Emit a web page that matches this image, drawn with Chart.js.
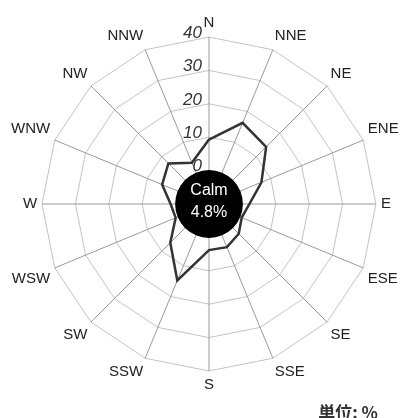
<!DOCTYPE html>
<html>
<head>
<meta charset="utf-8">
<script src="https://cdn.jsdelivr.net/npm/chart.js@4"></script>
<style>
  html, body { margin: 0; padding: 0; background: #fff; }
  #wrap { position: relative; width: 403px; height: 418px; }
  #unit {
    position: absolute; right: 25px; top: 402px;
    font: bold 17px "Noto Sans CJK JP", sans-serif; color: #333;
    line-height: 20px;
  }
</style>
</head>
<body>
<div id="wrap">
  <canvas id="rose" width="403" height="418"></canvas>
  <div id="unit">単位: %</div>
</div>
<script>
  // ── Data ────────────────────────────────────────────────────────────────
  const directions = ['N', 'NNE', 'NE', 'ENE', 'E', 'ESE', 'SE', 'SSE',
                      'S', 'SSW', 'SW', 'WSW', 'W', 'WNW', 'NW', 'NNW'];
  const frequency = [9.3, 16.3, 14.2, 7.0, 2.1, 0.6, 2.6, 4.0,
                     3.8, 14.8, 6.4, 0.8, 1.5, 5.2, 7.2, 3.4];
  const tickValues = [0, 10, 20, 30, 40];
  const calmLabel = 'Calm';
  const calmValue = '4.8%';

  const FONT = '"Liberation Sans", Arial, sans-serif';

  // ── Calm circle + italic tick labels ─────────────────────────────────────
  const calmPlugin = {
    id: 'calm',
    afterDatasetsDraw(chart) {
      const s = chart.scales.r;
      const ctx = chart.ctx;
      const cx = s.xCenter, cy = s.yCenter;
      const rad = s.getDistanceFromCenterForValue(0) + 0.5;

      ctx.save();
      ctx.beginPath();
      ctx.arc(cx, cy, rad, 0, Math.PI * 2);
      ctx.fillStyle = '#000';
      ctx.fill();

      ctx.fillStyle = '#fff';
      ctx.textAlign = 'center';
      ctx.textBaseline = 'middle';
      ctx.font = '16px ' + FONT;
      ctx.fillText(calmLabel, cx, cy - 13);
      ctx.fillText(calmValue, cx, cy + 9);

      ctx.fillStyle = '#333';
      ctx.textAlign = 'right';
      ctx.font = 'italic 17px ' + FONT;
      tickValues.forEach(v => {
        const y = cy - s.getDistanceFromCenterForValue(v);
        ctx.fillText(String(v), cx - 7, y - 4);
      });
      ctx.restore();
    },
  };

  new Chart(document.getElementById('rose'), {
    type: 'radar',
    data: {
      labels: directions,
      datasets: [{
        data: frequency,
        borderColor: '#333',
        borderWidth: 2.5,
        fill: false,
        pointRadius: 0,
        tension: 0,
      }],
    },
    options: {
      responsive: false,
      animation: false,
      layout: { padding: { top: 14, bottom: 24, left: 6, right: 0 } },
      plugins: {
        legend: { display: false },
        tooltip: { enabled: false },
      },
      scales: {
        r: {
          min: -10,
          max: 40,
          ticks: { display: false, stepSize: 10 },
          grid: { color: '#c4c4c4', lineWidth: 1 },
          angleLines: { color: '#999', lineWidth: 1 },
          pointLabels: {
            color: '#222',
            padding: 5,
            font: { size: 15, family: FONT },
          },
        },
      },
    },
    plugins: [calmPlugin],
  });
</script>
</body>
</html>
